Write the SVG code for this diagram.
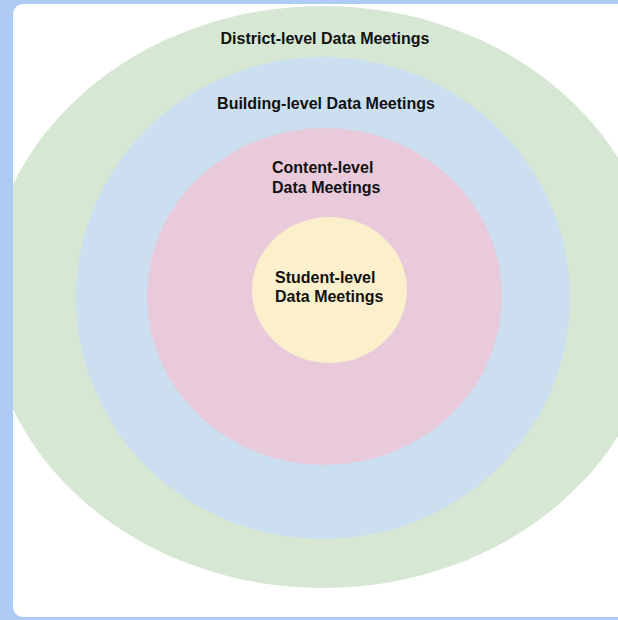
<svg xmlns="http://www.w3.org/2000/svg" width="618" height="620" viewBox="0 0 618 620">
  <style>
    .lbl { font-family: "Liberation Sans", Arial, sans-serif; font-weight: bold; font-size: 16px; fill: #111111; }
    .mid { text-anchor: middle; }
  </style>
  <defs>
    <clipPath id="panelClip">
      <rect x="13" y="4" width="620" height="613" rx="10" ry="10"/>
    </clipPath>
  </defs>
  <rect x="0" y="0" width="618" height="620" fill="#aecbf5"/>
  <rect x="13" y="4" width="620" height="613" rx="10" ry="10" fill="#ffffff"/>
  <g clip-path="url(#panelClip)">
    <g id="district">
      <ellipse cx="323" cy="297" rx="336" ry="291" fill="#d6e7d3"/>
      <text class="lbl mid" x="325" y="44">District-level Data Meetings</text>
    </g>
    <g id="building">
      <ellipse cx="323" cy="298" rx="247" ry="241" fill="#cbdff0"/>
      <text class="lbl mid" x="326" y="109">Building-level Data Meetings</text>
    </g>
    <g id="content">
      <ellipse cx="324.5" cy="296.5" rx="177.5" ry="168.5" fill="#e8cadb"/>
      <text class="lbl" x="272" y="173">Content-level</text>
      <text class="lbl" x="272" y="193">Data Meetings</text>
    </g>
    <g id="student">
      <ellipse cx="329.5" cy="290" rx="77.5" ry="73" fill="#fcefcb"/>
      <text class="lbl" x="275" y="283">Student-level</text>
      <text class="lbl" x="275" y="302">Data Meetings</text>
    </g>
  </g>
</svg>
